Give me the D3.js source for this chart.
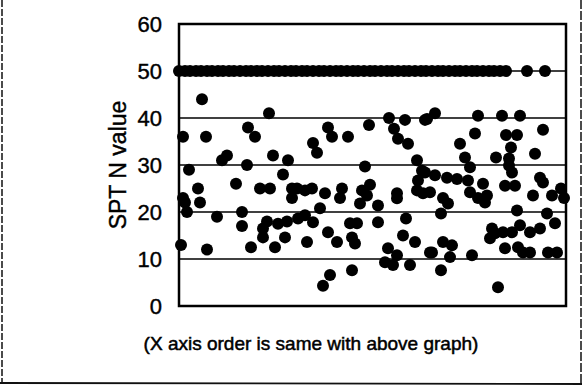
<!DOCTYPE html>
<html>
<head>
<meta charset="utf-8">
<script src="https://cdn.jsdelivr.net/npm/d3@7"></script>
<style>
  html, body { margin: 0; padding: 0; background: #fff; }
  svg { display: block; }
  text { font-family: "Liberation Sans", Arial, Helvetica, sans-serif; fill: #000; }
</style>
</head>
<body>
<svg id="chart" width="587" height="388"></svg>
<script>
// ---- data ----
// sample position along the (unlabelled) x axis, same order as the graph above
const sampleOrder = [
  0,6,11,17,22,28,33,39,44,50,55,61,67,72,78,83,89,95,100,106,112,117,123,128,134,140,145,151,157,162,
  168,174,179,185,191,196,202,208,213,219,225,230,236,242,247,253,259,264,270,276,281,287,293,298,304,310,315,321,327,348,366,
  4,27,23,90,69,76,94,109,48,43,10,68,104,19,57,81,91,113,113,4,6,21,8,38,63,63,88,84,99,108,84,106,2,28,72,96,
  190,210,226,246,149,153,169,215,219,229,134,138,186,238,243,239,118,126,133,146,163,161,183,191,218,238,181,188,199,218,244,
  141,126,119,134,171,178,199,227,149,128,158,173,176,224,236,209,218,206,214,231,251,151,144,173,
  248,256,299,323,341,296,327,338,364,281,332,286,317,356,330,330,333,291,246,256,268,278,289,304,308,291,251,264,361,364,
  326,336,354,373,299,306,269,262,338,368,376,313,316,311,324,333,341,351,361,264,273,253,271,293,326,339,344,351,369,378,262,319,382,385
];
const sptN = [
  50,50,50,50,50,50,50,50,50,50,50,50,50,50,50,50,50,50,50,50,50,50,50,50,50,50,50,50,50,50,
  50,50,50,50,50,50,50,50,50,50,50,50,50,50,50,50,50,50,50,50,50,50,50,50,50,50,50,50,50,50,50,
  36,36,44,41,38,36,32,31,32,31,29,30,28,25,26,25,25,25,23,23,22,22,20,19,20,17,18,16.5,17.5,18,14.6,14.6,13,12,12.5,12.5,
  38.5,40,39.6,39.6,38,36,36,37.7,35.6,34.5,34.7,32.6,29.7,31,28.8,26.7,25,24.6,25,24,25,23,24.6,25.8,24,24.6,21.8,23.5,21.4,22.9,24,
  20.8,19.3,18.6,17.8,17.6,17.6,17.8,18.6,15.7,13.6,13.6,14.6,13.3,15,13.6,12.3,10.8,9.3,8.7,8.7,11.4,6.6,4.3,7.6,
  39.8,41,40.5,40.5,40.5,36.7,36.4,36.4,37.5,34.5,33.7,31.6,31.6,32.4,31.4,29.9,28.4,29.5,28.4,27.8,27.3,27,26.7,26,23.5,24.2,24.2,23,27.3,26.3,
  25.6,25.6,23.5,23.5,23,22,21.8,19.7,20.3,19.7,17.6,16.5,15.5,14.4,15.7,15.7,17.2,15.7,16.5,13.6,12.9,11.4,10.4,10.8,12.3,12.5,11.4,11.4,11.4,11.4,7.6,4,25,23
];
const yTickValues = [0, 10, 20, 30, 40, 50, 60];
const gridValues = [10, 20, 30, 40, 50];
const yTitle = "SPT N value";
const xNote = "(X axis order is same with above graph)";

// ---- layout ----
const svg = d3.select("#chart");
const plot = { left: 179, right: 566, top: 24, bottom: 306 };

const x = d3.scaleLinear().domain([0, 387]).range([plot.left, plot.right]);
const y = d3.scaleLinear().domain([0, 60]).range([plot.bottom, plot.top]);

// outer (scanned page) border
svg.append("line").attr("x1", 2).attr("x2", 2).attr("y1", 0).attr("y2", 383)
  .attr("stroke", "#111").attr("stroke-width", 1.5).attr("stroke-dasharray", "7,2");
svg.append("line").attr("x1", 581).attr("x2", 581).attr("y1", 0).attr("y2", 384)
  .attr("stroke", "#111").attr("stroke-width", 1.5).attr("stroke-dasharray", "9,2");
svg.append("line").attr("x1", 0).attr("x2", 582).attr("y1", 383).attr("y2", 384)
  .attr("stroke", "#111").attr("stroke-width", 1.8);

// gridlines
svg.append("g").selectAll("line").data(gridValues).join("line")
  .attr("x1", plot.left).attr("x2", plot.right)
  .attr("y1", d => y(d)).attr("y2", d => y(d))
  .attr("stroke", "#000").attr("stroke-width", 1.6);

// points
const pts = sampleOrder.map((s, i) => ({ s, v: sptN[i] }));
svg.append("g").selectAll("circle").data(pts).join("circle")
  .attr("cx", d => x(d.s)).attr("cy", d => y(d.v)).attr("r", 6)
  .attr("fill", "#000");

// frame
svg.append("rect")
  .attr("x", plot.left).attr("y", plot.top)
  .attr("width", plot.right - plot.left).attr("height", plot.bottom - plot.top)
  .attr("fill", "none").attr("stroke", "#000").attr("stroke-width", 2.5);

// y axis
const yAxis = d3.axisLeft(y).tickValues(yTickValues).tickSize(0).tickPadding(17)
  .tickFormat(d3.format("d"));
const ga = svg.append("g").attr("transform", `translate(${plot.left},0)`).call(yAxis);
ga.select(".domain").remove();
ga.selectAll("text")
  .style("font-family", "'Liberation Sans', Arial, sans-serif")
  .style("font-size", "22px").attr("fill", "#000")
  .attr("stroke", "#000").attr("stroke-width", 0.4);

// y title
svg.append("text")
  .attr("transform", "translate(126,165) rotate(-90)")
  .attr("text-anchor", "middle")
  .style("font-size", "23px")
  .attr("stroke", "#000").attr("stroke-width", 0.4)
  .text(yTitle);

// note under the plot
svg.append("text")
  .attr("x", 311).attr("y", 350)
  .attr("text-anchor", "middle")
  .style("font-size", "19px")
  .attr("stroke", "#000").attr("stroke-width", 0.5)
  .text(xNote);
</script>
</body>
</html>
